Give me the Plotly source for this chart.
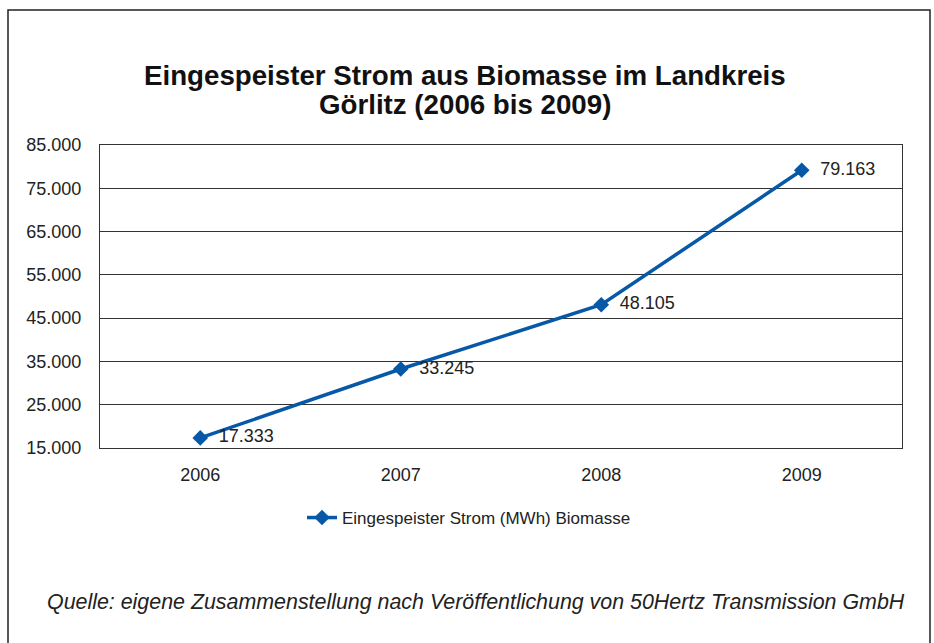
import plotly.graph_objects as go

years = ["2006", "2007", "2008", "2009"]
strom_mwh = [17333, 33245, 48105, 79163]
y_ticks = [15000, 25000, 35000, 45000, 55000, 65000, 75000, 85000]

W, H = 934, 643
L, R, T, B = 100, 32, 145, 195
pw, ph = W - L - R, H - T - B

def px_x(x):
    return (x - L) / pw

def px_y(y):
    return (H - B - y) / ph

blue = "#0758a6"
font = "Liberation Sans, Arial, sans-serif"

fig = go.Figure()
fig.add_trace(go.Scatter(
    x=years, y=strom_mwh, mode="lines+markers+text",
    name="Eingespeister Strom (MWh) Biomasse",
    line=dict(color=blue, width=3.5),
    marker=dict(symbol="diamond", size=12, color=blue),
    text=["\u00a0\u00a0" + f"{v:,}".replace(",", ".") for v in strom_mwh],
    textposition="middle right",
    textfont=dict(size=18, color="#222", family=font),
    cliponaxis=False,
))

title_lines = ["Eingespeister Strom aus Biomasse im Landkreis", "Görlitz (2006 bis 2009)"]
title_y = [75, 105]

annotations = [dict(
    text=f"<b>{t}</b>", xref="paper", yref="paper", x=px_x(465), y=px_y(yy),
    xanchor="center", yanchor="middle", showarrow=False,
    font=dict(size=27.7, color="#111", family=font),
) for t, yy in zip(title_lines, title_y)]

annotations.append(dict(
    text="<i>Quelle: eigene Zusammenstellung nach Veröffentlichung von 50Hertz Transmission GmbH</i>",
    xref="paper", yref="paper", x=px_x(476), y=px_y(602),
    xanchor="center", yanchor="middle", showarrow=False,
    font=dict(size=21.4, color="#222", family=font),
))

fig.update_layout(
    width=W, height=H,
    margin=dict(l=L, r=R, t=T, b=B),
    paper_bgcolor="white", plot_bgcolor="white",
    separators=",.",
    font=dict(family=font, color="#222"),
    xaxis=dict(
        type="category", range=[-0.5, 3.5], showgrid=False,
        showline=True, linecolor="#333", linewidth=1, mirror=True,
        tickfont=dict(size=18, color="#222"), ticks="", ticklabelstandoff=10,
        fixedrange=True,
    ),
    yaxis=dict(
        range=[15000, 85000], tickvals=y_ticks, tickformat=",d",
        showgrid=True, gridcolor="#333", gridwidth=1,
        showline=True, linecolor="#333", linewidth=1, mirror=True,
        tickfont=dict(size=18, color="#222"), ticks="", ticklabelstandoff=14,
        zeroline=False,
    ),
    showlegend=True,
    legend=dict(
        orientation="h", x=px_x(469), xanchor="center", y=px_y(518), yanchor="middle",
        font=dict(size=17, color="#222"),
    ),
    annotations=annotations,
    shapes=[dict(
        type="rect", xref="paper", yref="paper",
        x0=px_x(8), x1=px_x(930), y0=px_y(646), y1=px_y(10),
        line=dict(color="#222", width=1.5), fillcolor="rgba(0,0,0,0)", layer="below",
    )],
)

fig.write_html(
    "out.html",
    config={"displayModeBar": False},
    post_script="document.body.style.margin='0';document.body.style.padding='0';",
)
